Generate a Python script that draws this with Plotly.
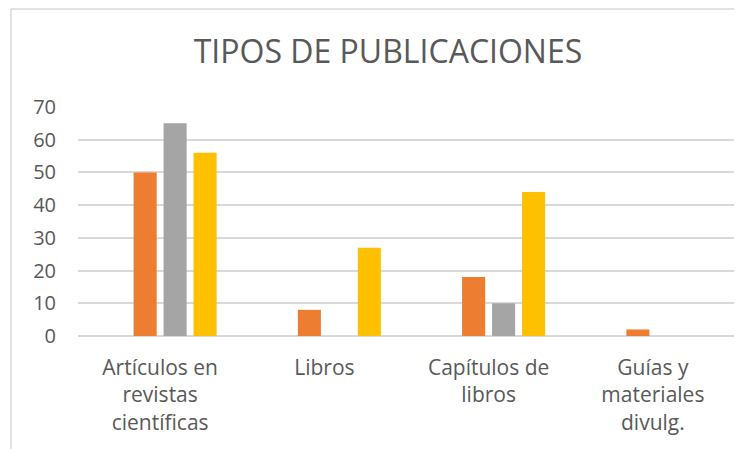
import plotly.graph_objects as go

categories = ["Artículos en<br>revistas<br>científicas", "Libros", "Capítulos de<br>libros", "Guías y<br>materiales<br>divulg."]
series_names = ["Serie 1", "Serie 2", "Serie 3", "Serie 4"]
serie1 = [0, 0, 0, 0]
serie2 = [50, 8, 18, 2]
serie3 = [65, 0, 10, 0]
serie4 = [56, 27, 44, 0]
colors = ["#4472C4", "#ED7D31", "#A5A5A5", "#FFC000"]
y_ticks = [0, 10, 20, 30, 40, 50, 60, 70]

FONT = "Open Sans"
TXT = "#595959"

fig = go.Figure()
for name, vals, col in zip(series_names, [serie1, serie2, serie3, serie4], colors):
    fig.add_trace(go.Bar(x=categories, y=vals, name=name, marker=dict(color=col, line=dict(width=0))))

W, H = 734, 441
L, R, T, B = 70, 7, 99, 113
PW, PH = W - L - R, H - T - B
fig.update_layout(
    width=W, height=H,
    margin=dict(l=L, r=R, t=T, b=B, autoexpand=False),
    paper_bgcolor="white", plot_bgcolor="white",
    barmode="group", bargap=0.27, bargroupgap=0.23,
    showlegend=False,
    title=dict(text="TIPOS DE PUBLICACIONES", x=380/W, xref="container", xanchor="center",
               y=1-44/H, yref="container", yanchor="middle",
               font=dict(family=FONT, size=32, color=TXT)),
    font=dict(family=FONT, color=TXT),
    shapes=[
        dict(type="line", xref="paper", yref="paper", x0=(3-L)/PW, x1=1.2, y0=1+(T-1)/PH, y1=1+(T-1)/PH,
             line=dict(color="#D9D9D9", width=1.5)),
        dict(type="line", xref="paper", yref="paper", x0=(3-L)/PW, x1=(3-L)/PW, y0=-0.6, y1=1+(T-1)/PH,
             line=dict(color="#D9D9D9", width=1.5)),
    ],
)
fig.update_xaxes(automargin=False, showgrid=False, showline=False, ticks="",
                 tickfont=dict(size=21, color=TXT), ticklabelstandoff=17)
fig.update_yaxes(automargin=False, range=[0, 70], tickvals=y_ticks, showgrid=True, gridcolor="#D9D9D9", gridwidth=1.5,
                 zeroline=True, zerolinecolor="#D9D9D9", zerolinewidth=1.5, showline=False,
                 tickfont=dict(size=20, color=TXT), ticklabelstandoff=21)

fig.write_html("out.html")
